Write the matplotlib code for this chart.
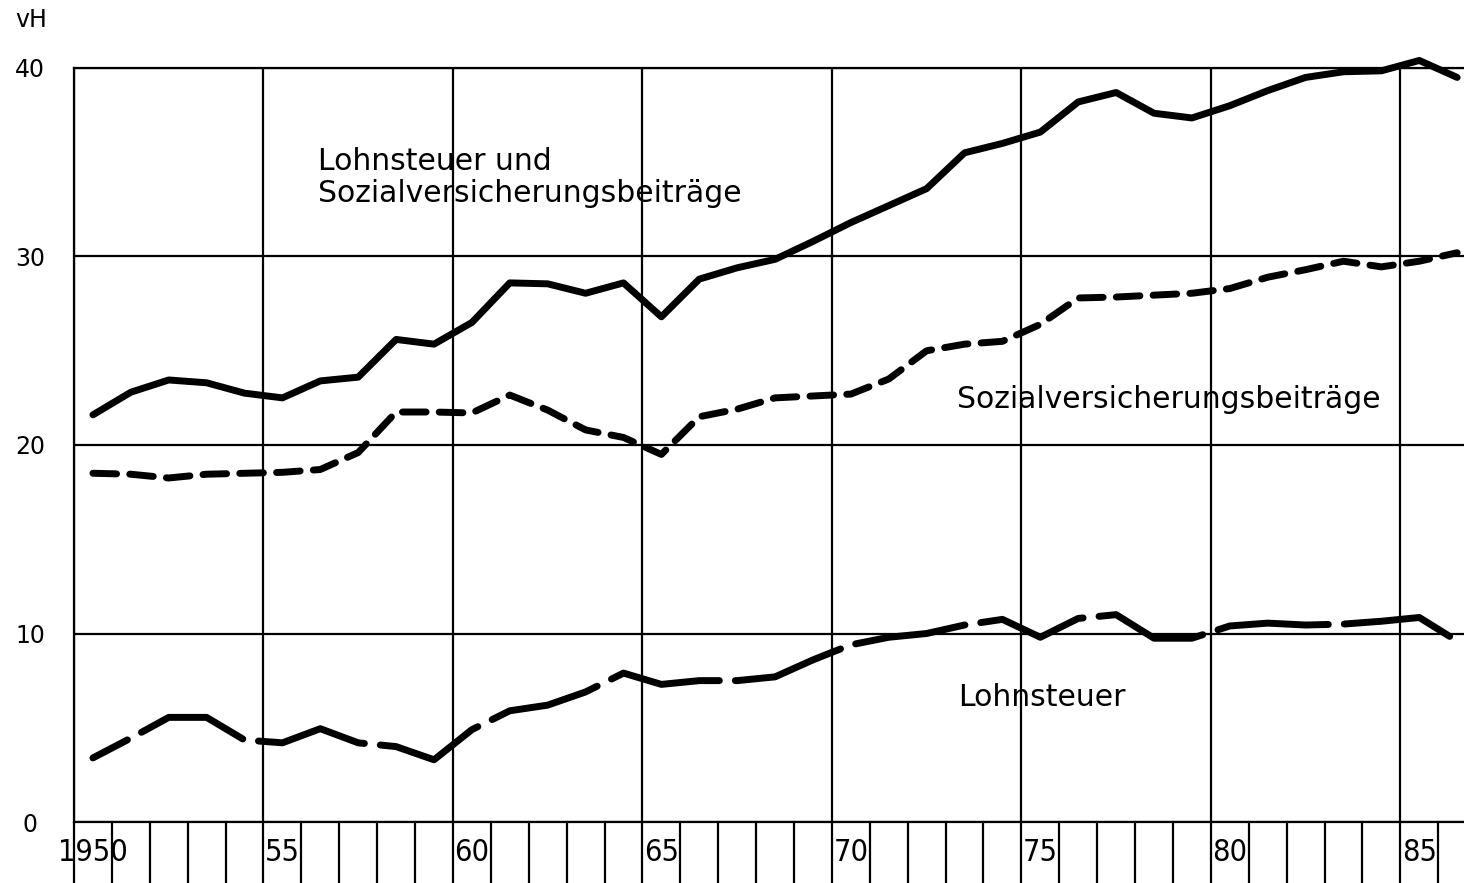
import numpy as np
import matplotlib
matplotlib.use("Agg")
import matplotlib.pyplot as plt

# Anteile am Bruttolohn in vH, Werte jeweils fuer die Jahresmitte
jahre = list(range(1950, 1987))
lohnsteuer_und_sv = [21.6, 22.8, 23.45, 23.3, 22.75, 22.5, 23.4, 23.6, 25.6, 25.35,
                     26.5, 28.6, 28.55, 28.05, 28.6, 26.8, 28.8, 29.4, 29.85, 30.8,
                     31.8, 32.7, 33.6, 35.5, 36.0, 36.6, 38.2, 38.7, 37.6, 37.35,
                     38.0, 38.8, 39.5, 39.8, 39.85, 40.4, 39.5]
sozialversicherung = [18.5, 18.45, 18.25, 18.45, 18.5, 18.55, 18.7, 19.6, 21.75, 21.75,
                      21.7, 22.65, 21.85, 20.8, 20.4, 19.5, 21.5, 21.9, 22.5, 22.6,
                      22.7, 23.5, 25.0, 25.35, 25.5, 26.4, 27.8, 27.85, 27.95, 28.05,
                      28.3, 28.9, 29.3, 29.75, 29.45, 29.75, 30.2]
lohnsteuer = [3.4, 4.45, 5.55, 5.55, 4.35, 4.2, 4.95, 4.2, 4.0, 3.3,
              4.9, 5.9, 6.2, 6.9, 7.9, 7.3, 7.5, 7.5, 7.7, 8.6,
              9.4, 9.8, 10.0, 10.45, 10.75, 9.8, 10.8, 11.0, 9.75, 9.75,
              10.4, 10.55, 10.45, 10.5, 10.65, 10.85, 9.6]

y_ticks = [0, 10, 20, 30, 40]
x_label_jahre = [1950, 1955, 1960, 1965, 1970, 1975, 1980, 1985]
x_labels = ["1950", "55", "60", "65", "70", "75", "80", "85"]

x = np.array(jahre) + 0.5

W, H = 1464, 883
fig = plt.figure(figsize=(W / 100, H / 100), dpi=100)
ax = fig.add_axes([74 / W, 61 / H, 1 - 74 / W, (822 - 68) / H])
ax.set_xlim(1950, 1986.68)
ax.set_ylim(0, 40)

lw = 5.0
ax.plot(x, lohnsteuer_und_sv, color="black", lw=lw, solid_capstyle="round",
        solid_joinstyle="round", clip_on=False, zorder=3)
ax.plot(x, sozialversicherung, color="black", lw=lw, dashes=(3.4, 1.9),
        dash_capstyle="round", dash_joinstyle="round", clip_on=False, zorder=3)
ax.plot(x, lohnsteuer, color="black", lw=lw, linestyle=(10.4, (16, 2.3)),
        dash_capstyle="round", dash_joinstyle="round", clip_on=False, zorder=3)

# Gitter
for s in ["left", "bottom", "top"]:
    ax.spines[s].set_linewidth(1.6)
ax.spines["right"].set_visible(False)
ax.set_xticks(x_label_jahre)
ax.set_xticks(jahre, minor=True)
ax.grid(True, which="major", color="black", lw=1.6)
ax.tick_params(axis="x", which="both", direction="out", length=44, width=1.6,
               labelbottom=False)
ax.set_axisbelow(True)

ax.set_yticks(y_ticks)
ax.set_yticklabels([str(v) for v in y_ticks])
ax.tick_params(axis="y", length=0, pad=31.7, labelsize=17)
for lab in ax.get_yticklabels():
    lab.set_ha("center")

for jahr, lab in zip(x_label_jahre, x_labels):
    ax.text(jahr + 0.5, -0.041, lab, transform=ax.get_xaxis_transform(),
            ha="center", va="center", fontsize=22, fontstretch="condensed",
            family=["DejaVu Sans"])

fig.text(31 / W, 1 - 20 / H, "vH", ha="center", va="center", fontsize=17)

fs = 21.5
ax.text(1956.45, 34.2, "Lohnsteuer und\nSozialversicherungsbeiträge",
        ha="left", va="center", fontsize=fs, linespacing=1.15)
ax.text(1973.29, 22.44, "Sozialversicherungsbeiträge", ha="left", va="center", fontsize=fs)
ax.text(1973.34, 6.63, "Lohnsteuer", ha="left", va="center", fontsize=fs)

fig.savefig("out.png", dpi=100)
